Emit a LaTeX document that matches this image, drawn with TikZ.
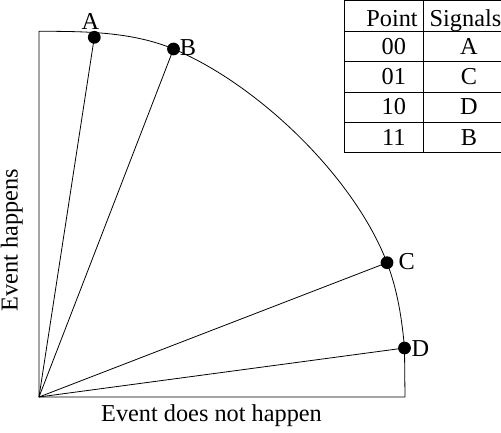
\documentclass[tikz,border=0pt]{standalone}
\usepackage{fontspec}
\setmainfont{Liberation Serif}
\begin{document}
\begin{tikzpicture}[x=1pt,y=-1pt,
  every node/.style={inner sep=0pt, font=\fontsize{24.3}{29}\selectfont},
  dot/.style={circle, fill=black, minimum size=12.8pt, inner sep=0pt},
  thinline/.style={line width=0.8pt},
  lbl/.style={anchor=base}]
\useasboundingbox (0,0) rectangle (501,433);
% origin and corners
\coordinate (O) at (39,397);
\coordinate (T) at (39,31.3);
\coordinate (R) at (405,397);
% signal points
\node[dot] (A) at (94.3,37.3) {};
\node[dot] (B) at (173.5,49) {};
\node[dot] (C) at (387,262.7) {};
\node[dot] (D) at (404.5,348) {};
% quarter outline
\draw[thinline] (R) -- (O) -- (T)
  .. controls (84,31.3) and (132,31.6) .. (B.center)
  .. controls (258.3,84.6) and (354,176.9) .. (C.center)
  .. controls (397.4,289.8) and (402,319) .. (D.center) -- (R);
\foreach \p in {A,B,C,D} \draw[thinline] (O) -- (\p.center);
% point labels
\node[lbl] (la) at (90.5,30) {A};
\node[anchor=base west] (lb) at (179.6,55.5) {B};
\node[anchor=base west] (lc) at (398.5,269) {C};
\node[anchor=base west] (ld) at (411.5,356) {D};
% axis labels
\node[lbl] (xl) at (211.5,421.5) {Event does not happen};
\node[anchor=base, rotate=90] (yl) at (17.5,240) {Event happens};
% table
\draw[thinline] (344.3,153) -- (344.3,0.8) -- (510,0.8);
\draw[thinline] (423.7,0) -- (423.7,153);
\foreach \yy in {31,61.7,92.3,122.3,152.7} \draw[thinline] (344.3,\yy) -- (510,\yy);
\node[lbl] (h1) at (392,26.7) {Point};
\node[lbl] (h2) at (465.5,26.7) {Signals};
\node[lbl] (r1a) at (393.8,55) {00};
\node[lbl] (r1b) at (469,55) {A};
\node[lbl] (r2a) at (393.8,84.5) {01};
\node[lbl] (r2b) at (469,84.5) {C};
\node[lbl] (r3a) at (393.8,115) {10};
\node[lbl] (r3b) at (469,115) {D};
\node[lbl] (r4a) at (393.8,146) {11};
\node[lbl] (r4b) at (469,146) {B};
\end{tikzpicture}
\end{document}
